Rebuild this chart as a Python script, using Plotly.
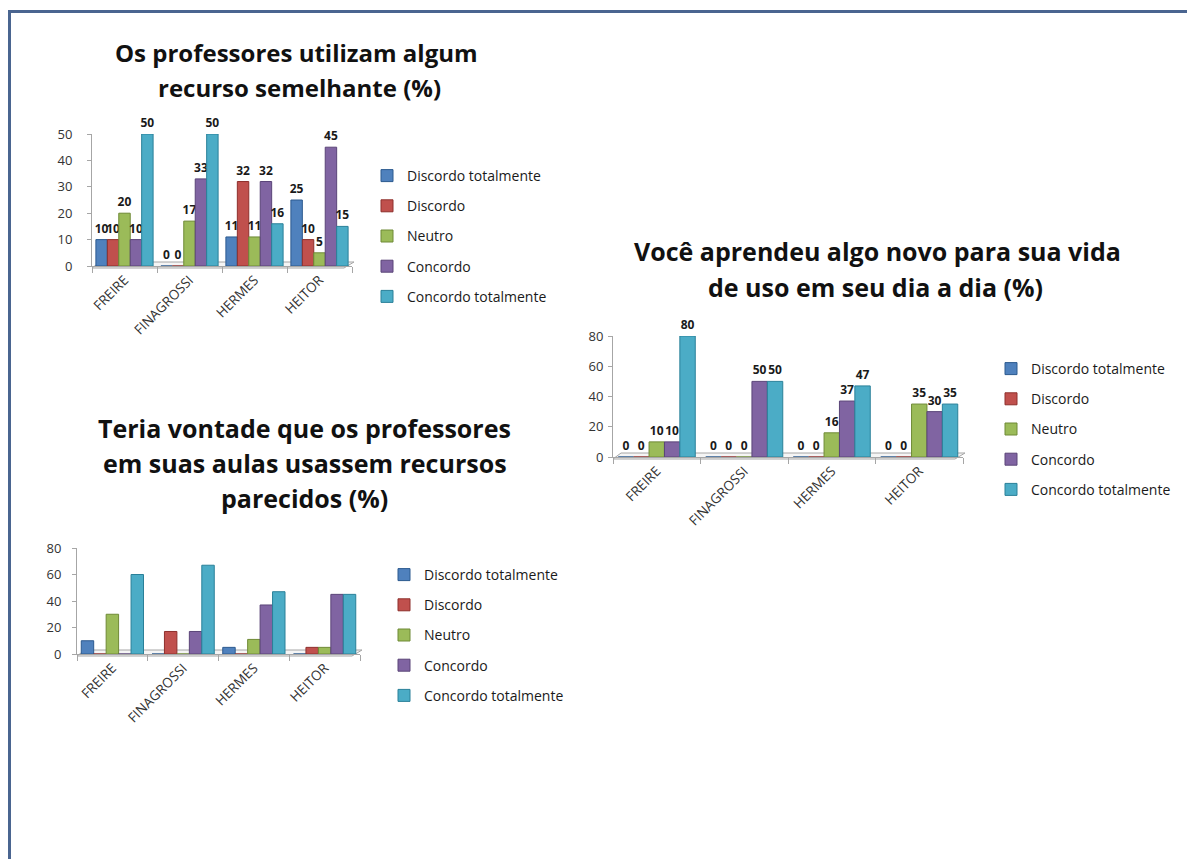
import plotly.graph_objects as go

W, H = 1187, 859

categories = ["FREIRE", "FINAGROSSI", "HERMES", "HEITOR"]
series_names = ["Discordo totalmente", "Discordo", "Neutro", "Concordo", "Concordo totalmente"]
colors = ["#4F81BD", "#C0504D", "#9BBB59", "#8064A2", "#4BACC6"]
edge_colors = ["#2C5A8F", "#8E2F2C", "#6F8A36", "#5A4478", "#2A8099"]

# Chart 1: Os professores utilizam algum recurso semelhante (%)
c1_discordo_totalmente = [10, 0, 11, 25]
c1_discordo = [10, 0, 32, 10]
c1_neutro = [20, 17, 11, 5]
c1_concordo = [10, 33, 32, 45]
c1_concordo_totalmente = [50, 50, 16, 15]

# Chart 2: Você aprendeu algo novo para sua vida de uso em seu dia a dia (%)
c2_discordo_totalmente = [0, 0, 0, 0]
c2_discordo = [0, 0, 0, 0]
c2_neutro = [10, 0, 16, 35]
c2_concordo = [10, 50, 37, 30]
c2_concordo_totalmente = [80, 50, 47, 35]

# Chart 3: Teria vontade que os professores em suas aulas usassem recursos parecidos (%)
c3_discordo_totalmente = [10, 0, 5, 0]
c3_discordo = [0, 17, 0, 5]
c3_neutro = [30, 0, 11, 5]
c3_concordo = [0, 17, 37, 45]
c3_concordo_totalmente = [60, 67, 47, 45]

chart1 = [c1_discordo_totalmente, c1_discordo, c1_neutro, c1_concordo, c1_concordo_totalmente]
chart2 = [c2_discordo_totalmente, c2_discordo, c2_neutro, c2_concordo, c2_concordo_totalmente]
chart3 = [c3_discordo_totalmente, c3_discordo, c3_neutro, c3_concordo, c3_concordo_totalmente]

FONT = "Open Sans"


def px_x(p):
    return p / W


def px_y(p):
    return 1 - p / H


fig = go.Figure()

specs = [
    dict(data=chart1, ax="", leg="legend", labels=True, xd=(92, 352), yd=(266, 134), yr=[0, 50],
         dtick=10, standoff=12),
    dict(data=chart2, ax="2", leg="legend2", labels=True, xd=(613, 963), yd=(457, 336), yr=[0, 80],
         dtick=20, standoff=2),
    dict(data=chart3, ax="3", leg="legend3", labels=False, xd=(77, 360), yd=(654, 548), yr=[0, 80],
         dtick=20, standoff=8),
]

for ci, s in enumerate(specs):
    for i, (name, vals) in enumerate(zip(series_names, s["data"])):
        fig.add_trace(go.Bar(
            x=categories, y=vals, name=name,
            marker=dict(color=colors[i], line=dict(color=edge_colors[i], width=1)),
            xaxis="x" + s["ax"], yaxis="y" + s["ax"],
            legend=s["leg"], legendgroup=f"c{ci}_{i}",
            text=[str(v) for v in vals] if s["labels"] else None,
            textposition="outside" if s["labels"] else "none",
            constraintext="none",
            textfont=dict(family=FONT, size=12, color="#1a1a1a", weight="bold"),
            cliponaxis=False,
            hoverinfo="x+y+name",
        ))

layout = dict(
    width=W, height=H, autosize=False,
    margin=dict(l=0, r=0, t=0, b=0, pad=0, autoexpand=False),
    paper_bgcolor="white", plot_bgcolor="rgba(0,0,0,0)",
    barmode="group", bargap=0.12, bargroupgap=0.0,
    font=dict(family=FONT, color="#333333"),
    showlegend=True,
)

legend_pos = {"legend": (367, 160), "legend2": (991, 353), "legend3": (384, 559)}

for ci, s in enumerate(specs):
    xa = "xaxis" + s["ax"]
    ya = "yaxis" + s["ax"]
    layout[xa] = dict(
        domain=[px_x(s["xd"][0]), px_x(s["xd"][1])],
        anchor="y" + s["ax"],
        tickangle=-45,
        tickfont=dict(family=FONT, size=13.5, color="#333333"),
        showline=True, linecolor="#A6A6A6", linewidth=1,
        ticks="outside", tickson="boundaries", ticklen=6, tickcolor="#A6A6A6",
        showgrid=False, zeroline=False, automargin=False,
        fixedrange=True,
    )
    layout[ya] = dict(
        domain=[px_y(s["yd"][0]), px_y(s["yd"][1])],
        anchor="x" + s["ax"],
        range=s["yr"], dtick=s["dtick"], tick0=0,
        tickfont=dict(family=FONT, size=13, color="#333333"),
        showline=True, linecolor="#A6A6A6", linewidth=1,
        ticks="outside", ticklen=4, tickcolor="#A6A6A6",
        ticklabelstandoff=s["standoff"],
        showgrid=False, zeroline=False, automargin=False, fixedrange=True,
    )
    lx, ly = legend_pos[s["leg"]]
    layout[s["leg"]] = dict(
        x=px_x(lx), y=px_y(ly), xanchor="left", yanchor="top",
        xref="paper", yref="paper",
        font=dict(family=FONT, size=14, color="#1a1a1a"),
        tracegroupgap=9, itemwidth=30,
        bgcolor="rgba(0,0,0,0)",
    )

fig.update_layout(**layout)

# 3D-style floors
shapes = []
for s in specs:
    x0, x1 = s["xd"]
    y0 = s["yd"][0]
    dx, dy = 8, 6
    path = (f"M {px_x(x0)},{px_y(y0 + 2)} L {px_x(x1 - dx)},{px_y(y0 + 2)} "
            f"L {px_x(x1 + 2)},{px_y(y0 - dy + 2)} L {px_x(x0 + dx)},{px_y(y0 - dy + 2)} Z")
    shapes.append(dict(type="path", path=path, xref="paper", yref="paper",
                       line=dict(color="#A6A6A6", width=1), fillcolor="rgba(235,235,235,0.5)",
                       layer="below"))

# frame (top and left edges)
shapes.append(dict(type="line", xref="paper", yref="paper",
                   x0=px_x(8), x1=1, y0=px_y(11.5), y1=px_y(11.5),
                   line=dict(color="#4A6590", width=3)))
shapes.append(dict(type="line", xref="paper", yref="paper",
                   x0=px_x(9.5), x1=px_x(9.5), y0=px_y(10), y1=0,
                   line=dict(color="#4A6590", width=3)))
fig.update_layout(shapes=shapes)

# Titles
title_lines = [
    ("Os professores utilizam algum", 296, 53, 24),
    ("recurso semelhante (%)", 300, 87, 24),
    ("Você aprendeu algo novo para sua vida", 877, 251, 25),
    ("de uso em seu dia a dia (%)", 875, 287, 25),
    ("Teria vontade que os professores", 305, 428, 25),
    ("em suas aulas usassem recursos", 305, 463, 25),
    ("parecidos (%)", 305, 498, 25),
]
for text, cx, cy, size in title_lines:
    fig.add_annotation(text=text, x=px_x(cx), y=px_y(cy), xref="paper", yref="paper",
                       xanchor="center", yanchor="middle", showarrow=False,
                       font=dict(family=FONT, size=size, color="#111111", weight="bold"))

post = ("document.body.style.margin='0';document.body.style.padding='0';"
        "var d=document.getElementById('{plot_id}');"
        "d.style.position='absolute';d.style.left='0px';d.style.top='0px';")
fig.write_html("out.html", config={"displayModeBar": False}, post_script=post)
